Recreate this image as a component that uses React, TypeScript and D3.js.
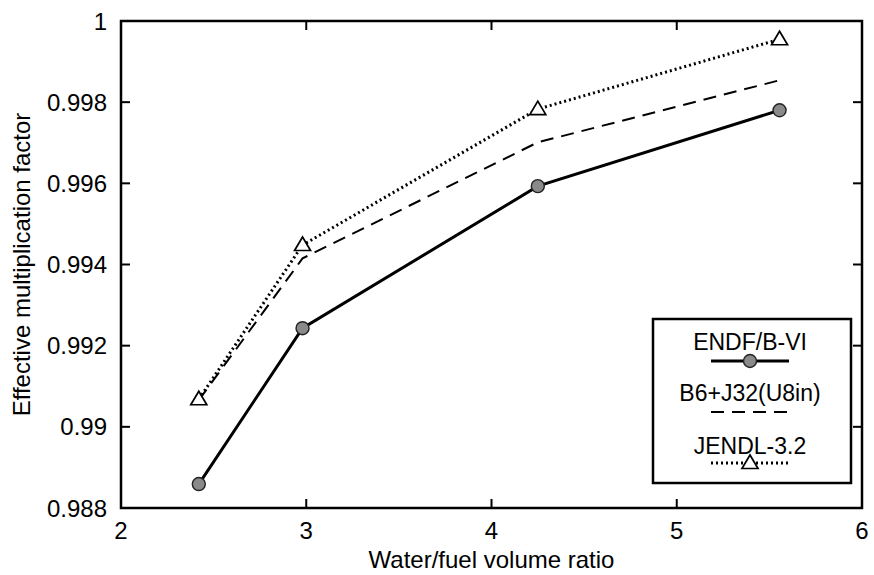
import React from "react";
import * as d3 from "d3";

const ratios = [2.42, 2.98, 4.25, 5.555];
const endf = [0.98859, 0.99243, 0.99593, 0.9978];
const b6j32 = [0.99066, 0.99415, 0.99701, 0.99854];
const jendl = [0.99068, 0.99448, 0.99783, 0.99955];
const xTicks = [2, 3, 4, 5, 6];
const yTicks = [0.988, 0.99, 0.992, 0.994, 0.996, 0.998, 1];
const legendNames = ["ENDF/B-VI", "B6+J32(U8in)", "JENDL-3.2"];

const W = 874;
const H = 575;
const margin = { top: 21, right: 7, bottom: 67, left: 121 };
const font = "Liberation Sans, Arial, Helvetica, sans-serif";

const Triangle = ({ x, y }: { x: number; y: number }) => (
  <path
    d={`M${x},${y - 8}L${x + 8},${y + 5.5}L${x - 8},${y + 5.5}Z`}
    fill="#fff"
    stroke="#000"
    strokeWidth={1.7}
  />
);

const Dot = ({ x, y }: { x: number; y: number }) => (
  <circle cx={x} cy={y} r={6.5} fill="#8a8a8a" stroke="#222" strokeWidth={1.4} />
);

const App = () => {
  const xScale = d3
    .scaleLinear()
    .domain([2, 6])
    .range([margin.left, W - margin.right - 5]);
  const yScale = d3
    .scaleLinear()
    .domain([0.988, 1])
    .range([H - margin.bottom, margin.top]);

  const line = d3
    .line<number>()
    .x((_, i) => xScale(ratios[i]))
    .y((d) => yScale(d));

  const x0 = xScale(2);
  const x1 = xScale(6);
  const y0 = yScale(0.988);
  const y1 = yScale(1);

  // legend box, symbols centred on the text
  const legend = { x: 653, y: 319, w: 198, h: 164 };
  const lmid = 750;
  const lx0 = lmid - 39;
  const lx1 = lmid + 39;
  const rows = [
    { text: 342, sym: 361 },
    { text: 393, sym: 412 },
    { text: 446, sym: 463 },
  ];

  return (
    <svg
      width={W}
      height={H}
      style={{ position: "absolute", left: 0, top: 0, background: "#fff" }}
      fontFamily={font}
    >
      {/* series */}
      <path d={line(jendl) ?? ""} fill="none" stroke="#000" strokeWidth={3} strokeDasharray="2,3" />
      <path d={line(b6j32) ?? ""} fill="none" stroke="#000" strokeWidth={2} strokeDasharray="13,8" />
      <path d={line(endf) ?? ""} fill="none" stroke="#000" strokeWidth={3} />
      {endf.map((v, i) => (
        <Dot key={"e" + i} x={xScale(ratios[i])} y={yScale(v)} />
      ))}
      {jendl.map((v, i) => (
        <Triangle key={"j" + i} x={xScale(ratios[i])} y={yScale(v)} />
      ))}

      {/* ticks */}
      {yTicks.map((t) => (
        <g key={"y" + t}>
          <line x1={x0} x2={x0 + 9} y1={yScale(t)} y2={yScale(t)} stroke="#000" strokeWidth={2} />
          <line x1={x1} x2={x1 - 9} y1={yScale(t)} y2={yScale(t)} stroke="#000" strokeWidth={2} />
          <text x={x0 - 14} y={yScale(t)} dy="0.36em" textAnchor="end" fontSize={24}>
            {t === 1 ? "1" : t === 0.99 ? "0.99" : d3.format(".3f")(t)}
          </text>
        </g>
      ))}
      {xTicks.map((t) => (
        <g key={"x" + t}>
          <line x1={xScale(t)} x2={xScale(t)} y1={y0} y2={y0 - 9} stroke="#000" strokeWidth={2} />
          <line x1={xScale(t)} x2={xScale(t)} y1={y1} y2={y1 + 9} stroke="#000" strokeWidth={2} />
          <text x={xScale(t)} y={y0 + 31} textAnchor="middle" fontSize={24}>
            {t}
          </text>
        </g>
      ))}

      {/* frame */}
      <rect x={x0} y={y1} width={x1 - x0} height={y0 - y1} fill="none" stroke="#000" strokeWidth={2.5} />

      {/* legend */}
      <rect
        x={legend.x}
        y={legend.y}
        width={legend.w}
        height={legend.h}
        fill="#fff"
        stroke="#000"
        strokeWidth={2.5}
      />
      {legendNames.map((name, i) => (
        <text key={name} x={lmid} y={rows[i].text} dy="0.36em" textAnchor="middle" fontSize={23}>
          {name}
        </text>
      ))}
      <line x1={lx0} x2={lx1} y1={rows[0].sym} y2={rows[0].sym} stroke="#000" strokeWidth={3} />
      <Dot x={lmid} y={rows[0].sym} />
      <line x1={lx0} x2={lx1} y1={rows[1].sym} y2={rows[1].sym} stroke="#000" strokeWidth={2} strokeDasharray="13,8" />
      <line x1={lx0} x2={lx1} y1={rows[2].sym} y2={rows[2].sym} stroke="#000" strokeWidth={3} strokeDasharray="2,3" />
      <Triangle x={lmid} y={rows[2].sym} />

      {/* axis titles */}
      <text x={(x0 + x1) / 2} y={568} textAnchor="middle" fontSize={24}>
        Water/fuel volume ratio
      </text>
      <text
        transform={`translate(30,${(y0 + y1) / 2}) rotate(-90)`}
        textAnchor="middle"
        fontSize={24}
      >
        Effective multiplication factor
      </text>
    </svg>
  );
};

export default App;
